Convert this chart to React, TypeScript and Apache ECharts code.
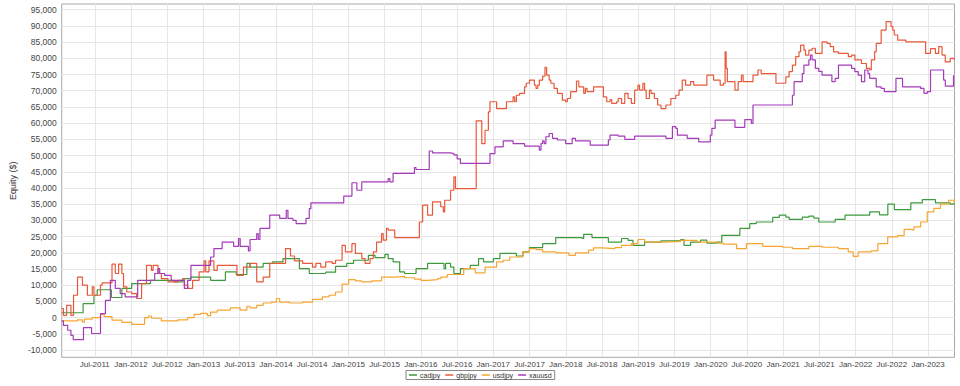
import React, { useEffect, useRef } from "react";
import * as echarts from "echarts";

const seriesNames = ["cadjpy", "gbpjpy", "usdjpy", "xauusd"];
const seriesColors = ["#3c9a3c", "#e8593a", "#f7a530", "#a43bb8"];

const xTickValues = [2011.5, 2012, 2012.5, 2013, 2013.5, 2014, 2014.5, 2015, 2015.5, 2016, 2016.5, 2017, 2017.5, 2018, 2018.5, 2019, 2019.5, 2020, 2020.5, 2021, 2021.5, 2022, 2022.5, 2023];
const xTickLabels = ["Jul-2011", "Jan-2012", "Jul-2012", "Jan-2013", "Jul-2013", "Jan-2014", "Jul-2014", "Jan-2015", "Jul-2015", "Jan-2016", "Jul-2016", "Jan-2017", "Jul-2017", "Jan-2018", "Jul-2018", "Jan-2019", "Jul-2019", "Jan-2020", "Jul-2020", "Jan-2021", "Jul-2021", "Jan-2022", "Jul-2022", "Jan-2023"];
const yTickValues = [-10000, -5000, 0, 5000, 10000, 15000, 20000, 25000, 30000, 35000, 40000, 45000, 50000, 55000, 60000, 65000, 70000, 75000, 80000, 85000, 90000, 95000];

const cadjpy: number[][] = [[2011.044,1500],[2011.339,4300],[2011.489,6900],[2011.534,8600],[2011.729,6200],[2011.874,9000],[2012.010,10500],[2012.269,11500],[2012.596,11000],[2012.714,12000],[2012.827,12500],[2013.099,11500],[2013.303,14100],[2013.453,13300],[2013.599,16700],[2013.643,15600],[2013.824,16700],[2013.956,17200],[2014.097,18200],[2014.324,15100],[2014.460,13600],[2014.687,14000],[2014.823,15800],[2014.977,16700],[2015.072,17700],[2015.276,19200],[2015.368,18500],[2015.504,19500],[2015.549,18200],[2015.617,17200],[2015.708,14100],[2015.776,13600],[2015.934,15100],[2016.093,16700],[2016.320,15100],[2016.342,16700],[2016.410,15600],[2016.456,13600],[2016.546,15100],[2016.682,16100],[2016.797,18200],[2016.865,17200],[2017.001,18200],[2017.091,19800],[2017.318,19000],[2017.409,20300],[2017.499,21600],[2017.681,22800],[2017.862,24700],[2018.226,24400],[2018.247,25700],[2018.362,24700],[2018.588,23300],[2018.770,24400],[2018.860,23800],[2018.928,22300],[2019.088,23300],[2019.314,23700],[2019.587,24100],[2019.632,22300],[2019.723,23300],[2019.859,23900],[2019.948,23000],[2020.085,23300],[2020.153,25400],[2020.403,27500],[2020.539,29000],[2020.629,29500],[2020.856,30900],[2020.947,31600],[2021.037,31000],[2021.083,30300],[2021.264,31000],[2021.355,31300],[2021.423,30700],[2021.491,29500],[2021.718,30300],[2021.854,31600],[2022.194,32600],[2022.330,31700],[2022.445,35000],[2022.535,33300],[2022.762,35400],[2022.921,36400],[2023.102,35400],[2023.306,35000],[2023.361,35400]];

const gbpjpy: number[][] = [[2011.044,2800],[2011.067,700],[2011.112,3800],[2011.171,700],[2011.207,6900],[2011.262,12500],[2011.330,10000],[2011.398,6900],[2011.466,9500],[2011.489,6900],[2011.579,10000],[2011.602,10700],[2011.738,16500],[2011.783,13600],[2011.829,16500],[2011.874,13600],[2011.897,9500],[2011.942,7900],[2012.010,7400],[2012.078,5900],[2012.146,10500],[2012.214,16100],[2012.282,14600],[2012.305,16100],[2012.373,13600],[2012.419,12000],[2012.510,11000],[2012.646,11500],[2012.714,12000],[2012.736,10000],[2012.782,9000],[2012.850,11500],[2012.940,14100],[2013.008,17500],[2013.031,14100],[2013.076,17500],[2013.144,14600],[2013.190,16100],[2013.462,13000],[2013.552,15600],[2013.643,16700],[2013.735,11000],[2013.824,12500],[2013.915,16700],[2014.133,21300],[2014.201,19000],[2014.256,17500],[2014.369,16700],[2014.505,15600],[2014.551,16700],[2014.619,15600],[2014.687,17200],[2014.777,16700],[2014.823,17700],[2014.913,22300],[2014.959,20300],[2015.049,22800],[2015.096,19800],[2015.185,18200],[2015.231,16700],[2015.299,18200],[2015.344,20300],[2015.389,23300],[2015.458,25900],[2015.481,23900],[2015.526,27500],[2015.549,27000],[2015.640,24700],[2015.980,29500],[2016.025,34700],[2016.093,31600],[2016.161,35700],[2016.274,34200],[2016.311,32600],[2016.329,36200],[2016.410,39300],[2016.456,43400],[2016.478,39800],[2016.764,60700],[2016.841,53700],[2016.886,57800],[2016.932,63500],[2016.954,66600],[2017.046,64500],[2017.182,66600],[2017.273,68100],[2017.295,66600],[2017.318,68600],[2017.363,69200],[2017.431,71200],[2017.454,72300],[2017.499,73300],[2017.567,71700],[2017.590,70700],[2017.613,71700],[2017.635,73300],[2017.681,74500],[2017.713,77200],[2017.736,74800],[2017.771,73300],[2017.794,72300],[2017.839,70700],[2017.885,69200],[2017.953,67100],[2017.998,66600],[2018.022,67600],[2018.067,69700],[2018.148,73000],[2018.180,71200],[2018.248,69200],[2018.271,70700],[2018.294,69700],[2018.384,71200],[2018.520,68100],[2018.566,66600],[2018.611,67300],[2018.634,66100],[2018.702,66600],[2018.724,67600],[2018.770,66100],[2018.815,69200],[2018.860,67600],[2018.906,66100],[2018.951,70200],[2018.996,71700],[2019.019,70200],[2019.064,72300],[2019.087,70200],[2019.110,67600],[2019.155,70200],[2019.178,69200],[2019.223,67600],[2019.268,65600],[2019.314,64500],[2019.382,65600],[2019.450,67600],[2019.519,68600],[2019.563,70200],[2019.608,73300],[2019.654,71700],[2019.722,72800],[2019.767,71700],[2019.948,74800],[2020.040,73300],[2020.131,71700],[2020.176,72300],[2020.199,82000],[2020.213,76900],[2020.230,72800],[2020.335,70200],[2020.380,72800],[2020.425,74800],[2020.448,72800],[2020.584,74800],[2020.652,76400],[2020.697,75300],[2020.901,72300],[2021.037,74300],[2021.083,75900],[2021.128,77900],[2021.173,80500],[2021.219,82000],[2021.241,84100],[2021.287,82500],[2021.309,81000],[2021.355,82500],[2021.400,83100],[2021.445,81500],[2021.537,85100],[2021.605,84600],[2021.650,83600],[2021.696,82000],[2021.764,81500],[2021.900,80500],[2021.945,81000],[2021.990,79500],[2022.081,78400],[2022.149,76900],[2022.194,76400],[2022.217,79500],[2022.262,82000],[2022.285,84600],[2022.353,88700],[2022.421,91300],[2022.489,89800],[2022.513,88700],[2022.534,87200],[2022.581,85600],[2022.694,85100],[2022.966,81500],[2023.034,83000],[2023.102,81500],[2023.147,83600],[2023.193,81000],[2023.238,78900],[2023.306,80000],[2023.361,79500]];

const usdjpy: number[][] = [[2011.044,-1000],[2011.262,-700],[2011.330,-1400],[2011.357,-500],[2011.466,0],[2011.579,1000],[2011.629,300],[2011.738,-800],[2011.874,-1500],[2012.010,-2100],[2012.187,0],[2012.242,500],[2012.282,-200],[2012.419,-1000],[2012.646,-700],[2012.782,0],[2012.872,1000],[2012.963,1300],[2013.054,600],[2013.099,1700],[2013.190,2300],[2013.371,3000],[2013.507,2300],[2013.599,3500],[2013.643,3000],[2013.735,3800],[2013.824,4500],[2013.939,4800],[2014.007,5900],[2014.052,4800],[2014.188,4500],[2014.369,4800],[2014.505,5600],[2014.641,6400],[2014.732,6900],[2014.823,7900],[2014.913,10300],[2015.004,11700],[2015.096,11300],[2015.185,11000],[2015.321,11300],[2015.458,12500],[2015.640,12700],[2015.776,12300],[2015.912,11900],[2016.002,11500],[2016.093,11700],[2016.229,12000],[2016.274,12500],[2016.365,13300],[2016.592,15100],[2016.750,13800],[2016.886,15600],[2017.045,17200],[2017.137,17700],[2017.227,18700],[2017.409,20300],[2017.499,21300],[2017.590,21000],[2017.681,20300],[2017.862,20000],[2018.043,19200],[2018.134,20000],[2018.315,20800],[2018.383,21500],[2018.498,21300],[2018.679,21600],[2018.770,22300],[2018.906,22800],[2018.996,24100],[2019.088,23300],[2019.360,23500],[2019.587,23800],[2019.813,23300],[2020.085,23000],[2020.176,22700],[2020.357,21300],[2020.493,22800],[2020.720,22000],[2020.992,21700],[2021.128,21300],[2021.355,22000],[2021.536,21700],[2021.763,21300],[2021.899,20300],[2021.967,18900],[2022.035,20300],[2022.216,20600],[2022.307,22800],[2022.443,24900],[2022.579,25300],[2022.670,27200],[2022.762,27000],[2022.806,28000],[2022.898,29500],[2022.989,32600],[2023.080,33700],[2023.171,35000],[2023.283,36200],[2023.361,35300]];

const xauusd: number[][] = [[2011.044,-1000],[2011.067,-2400],[2011.126,-3900],[2011.171,-5500],[2011.203,-6800],[2011.344,-3100],[2011.456,-4900],[2011.579,1200],[2011.647,5300],[2011.715,11500],[2011.783,9000],[2011.851,7400],[2011.919,6400],[2012.092,11500],[2012.327,13600],[2012.373,15100],[2012.396,13600],[2012.464,13000],[2012.555,11500],[2012.736,9000],[2012.782,11500],[2012.827,16100],[2013.099,18700],[2013.144,21300],[2013.258,23300],[2013.416,22000],[2013.484,24400],[2013.507,22000],[2013.620,20600],[2013.643,24100],[2013.735,25900],[2013.756,24100],[2013.779,27500],[2013.915,31600],[2014.052,30600],[2014.143,33100],[2014.166,30600],[2014.234,30000],[2014.279,29000],[2014.415,30600],[2014.460,33600],[2014.483,35400],[2014.936,37500],[2015.049,41600],[2015.117,39300],[2015.185,41900],[2015.549,42900],[2015.572,41900],[2015.617,44500],[2015.912,46300],[2015.934,45700],[2016.116,51400],[2016.161,50800],[2016.410,50600],[2016.456,50200],[2016.501,49000],[2016.546,47600],[2016.954,50600],[2017.023,52700],[2017.137,54500],[2017.273,53700],[2017.431,52900],[2017.635,51700],[2017.658,53700],[2017.681,54500],[2017.703,53700],[2017.726,55800],[2017.771,56800],[2017.817,55300],[2017.885,54800],[2017.998,53700],[2018.089,55300],[2018.134,54500],[2018.338,53200],[2018.588,54800],[2018.611,56300],[2018.724,56000],[2018.815,55000],[2018.951,56000],[2019.382,55300],[2019.472,58900],[2019.519,58400],[2019.540,56300],[2019.676,55300],[2019.835,54200],[2019.995,56300],[2020.017,58400],[2020.062,60900],[2020.335,58700],[2020.471,61100],[2020.561,59900],[2020.584,65600],[2021.128,68600],[2021.151,72800],[2021.264,75300],[2021.287,77900],[2021.355,79500],[2021.377,81000],[2021.400,79500],[2021.445,76900],[2021.491,76000],[2021.537,74800],[2021.673,72800],[2021.718,73800],[2021.764,77900],[2021.945,76900],[2021.990,75900],[2022.036,74800],[2022.081,72800],[2022.126,76400],[2022.171,75300],[2022.194,73800],[2022.285,71200],[2022.353,70700],[2022.398,69700],[2022.557,73800],[2022.648,71200],[2022.898,70700],[2022.943,69200],[2022.989,69700],[2023.034,76400],[2023.215,73300],[2023.238,71400],[2023.351,74800]];

const seriesData = [cadjpy, gbpjpy, usdjpy, xauusd];

const FONT = "'Liberation Sans', Arial, sans-serif";

export default function App() {
  const ref = useRef<HTMLDivElement>(null);
  useEffect(() => {
    if (!ref.current) return;
    const chart = echarts.init(ref.current, null, { renderer: "svg" });
    chart.setOption({
      animation: false,
      backgroundColor: "#ffffff",
      textStyle: { fontFamily: FONT },
      grid: {
        left: 49,
        right: 5.5,
        top: 4,
        bottom: 28.7,
        show: true,
        borderColor: "#a8a8a8",
        borderWidth: 1,
        backgroundColor: "#ffffff",
      },
      legend: {
        data: seriesNames.map((n) => ({ name: n, icon: "rect" })),
        left: 406,
        top: 370.5,
        orient: "horizontal",
        itemWidth: 8,
        itemHeight: 1.5,
        itemGap: 5,
        padding: [1, 3],
        borderColor: "#888",
        borderWidth: 1,
        textStyle: { fontSize: 7, color: "#333", fontFamily: FONT, padding: [0, 0, 0, -2] },
      },
      xAxis: {
        type: "value",
        min: 2011.044,
        max: 2023.365,
        axisLine: { show: false },
        axisTick: { show: false, customValues: xTickValues },
        axisLabel: {
          customValues: xTickValues,
          fontSize: 8,
          color: "#444",
          margin: 3,
          fontFamily: FONT,
          formatter: (v: number) => {
            const i = xTickValues.findIndex((t) => Math.abs(t - v) < 1e-6);
            return i >= 0 ? xTickLabels[i] : "";
          },
        },
        splitLine: { show: true, lineStyle: { color: "#e6e6e6", width: 1 } },
      },
      yAxis: {
        type: "value",
        min: -12250,
        max: 96760,
        name: "Equity ($)",
        nameLocation: "middle",
        nameGap: 33,
        nameTextStyle: { fontSize: 9, color: "#333", fontFamily: FONT },
        axisLine: { show: false },
        axisTick: { show: false, customValues: yTickValues },
        axisLabel: {
          customValues: yTickValues,
          fontSize: 8.5,
          color: "#444",
          margin: 5,
          fontFamily: FONT,
          formatter: (v: number) => v.toLocaleString("en-US"),
        },
        splitLine: { show: true, lineStyle: { color: "#e6e6e6", width: 1 } },
      },
      series: seriesNames.map((name, i) => ({
        name,
        type: "line",
        step: "end",
        data: seriesData[i],
        showSymbol: false,
        symbol: "none",
        color: seriesColors[i],
        lineStyle: { width: 1.2, color: seriesColors[i] },
        clip: true,
      })),
    });
    return () => chart.dispose();
  }, []);
  return <div ref={ref} style={{ width: 960, height: 386, position: "absolute", left: 0, top: 0 }} />;
}
